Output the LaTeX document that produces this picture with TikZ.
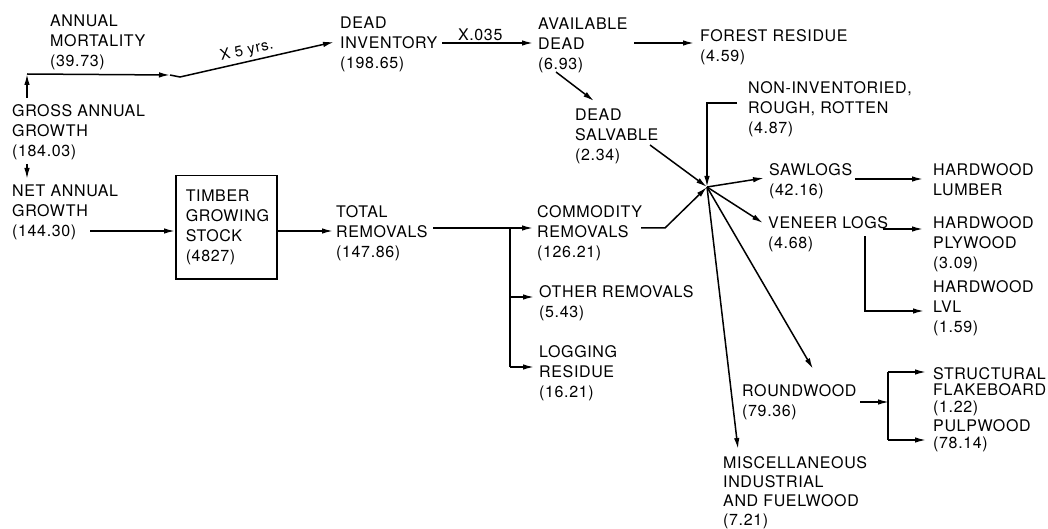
\documentclass[tikz,border=0pt]{standalone}
\usepackage{fontspec}
\setmainfont{TeX Gyre Heros}[LetterSpace=4]
\usetikzlibrary{arrows.meta}
\begin{document}
\begin{tikzpicture}[x=1pt,y=-1pt,
  lbl/.style={anchor=north west, inner sep=0pt, align=left, font=\fontsize{16}{20}\selectfont},
  arr/.style={-{Latex[length=11pt,width=5.5pt]}, line width=1.5pt},
  ln/.style={line width=1.5pt},
  boxed/.style={draw, line width=1.5pt, anchor=north west, inner xsep=10pt, inner ysep=0pt,
    minimum width=101pt, minimum height=103pt, text width=81pt, align=left, font=\fontsize{16}{20}\selectfont}]
\useasboundingbox[fill=white] (0,0) rectangle (1048,529);
% nodes
\node[lbl] (mort) at (50,15) {ANNUAL\\MORTALITY\\(39.73)};
\node[lbl] (gross) at (12,104) {GROSS ANNUAL\\GROWTH\\(184.03)};
\node[lbl] (net) at (12,185) {NET ANNUAL\\GROWTH\\(144.30)};
\node[boxed] (timber) at (175,175) {TIMBER\\GROWING\\STOCK\\(4827)};
\node[lbl] (total) at (336,205) {TOTAL\\REMOVALS\\(147.86)};
\node[lbl] (deadinv) at (340,17) {DEAD\\INVENTORY\\(198.65)};
\node[lbl] (avail) at (538,18) {AVAILABLE\\DEAD\\(6.93)};
\node[lbl] (forest) at (700,29) {FOREST RESIDUE\\(4.59)};
\node[lbl] (salv) at (575,109) {DEAD\\SALVABLE\\(2.34)};
\node[lbl] (noninv) at (748,81) {NON-INVENTORIED,\\ROUGH, ROTTEN\\(4.87)};
\node[lbl] (sawlogs) at (769,163) {SAWLOGS\\(42.16)};
\node[lbl] (lumber) at (933,163) {HARDWOOD\\LUMBER};
\node[lbl] (veneer) at (768,216) {VENEER LOGS\\(4.68)};
\node[lbl] (plywood) at (933,216) {HARDWOOD\\PLYWOOD\\(3.09)};
\node[lbl] (lvl) at (933,280) {HARDWOOD\\LVL\\(1.59)};
\node[lbl] (commodity) at (537,205) {COMMODITY\\REMOVALS\\(126.21)};
\node[lbl] (other) at (539,285) {OTHER REMOVALS\\(5.43)};
\node[lbl] (logging) at (539,345) {LOGGING\\RESIDUE\\(16.21)};
\node[lbl] (roundwood) at (742,384) {ROUNDWOOD\\(79.36)};
\node[lbl, font=\fontsize{16}{19}\selectfont] (misc) at (723,456) {MISCELLANEOUS\\INDUSTRIAL\\AND FUELWOOD\\(7.21)};
\node[lbl, font=\fontsize{16}{16.5}\selectfont] (struct) at (933,367) {STRUCTURAL\\FLAKEBOARD\\(1.22)};
\node[lbl, font=\fontsize{16}{17}\selectfont] (pulp) at (933,419) {PULPWOOD\\(78.14)};
% coordinates
\coordinate (hub) at (707,187);
\coordinate (g0) at (27,98);
\coordinate (g1) at (27,74);
\coordinate (g2) at (170,75);
\coordinate (g3) at (180,77);
\coordinate (d0) at (334,42);
\coordinate (n0) at (27,164);
\coordinate (n1) at (27,179);
\coordinate (t0) at (90,231);
\coordinate (t1) at (333,231);
\coordinate (r0) at (433,228);
\coordinate (r1) at (533,228);
\coordinate (rb) at (510,228);
\coordinate (rb2) at (510,297);
\coordinate (rb3) at (510,367);
\coordinate (o1) at (534,297);
\coordinate (l1) at (534,367);
\coordinate (i0) at (442,43);
\coordinate (i1) at (533,43);
\coordinate (a0) at (634,43);
\coordinate (a1) at (694,43);
\coordinate (a2) at (556,72);
\coordinate (a3) at (594,101);
\coordinate (s0) at (650,145);
\coordinate (ni0) at (737,103);
\coordinate (ni1) at (707,103);
\coordinate (c0) at (641,228);
\coordinate (c1) at (665,228);
\coordinate (sw1) at (764,178);
\coordinate (vn1) at (763,223);
\coordinate (rw1) at (813,369);
\coordinate (ms1) at (738,449);
\coordinate (sl0) at (855,179);
\coordinate (sl1) at (923,179);
\coordinate (v0) at (883,229);
\coordinate (v1) at (923,229);
\coordinate (v2) at (865,236);
\coordinate (v3) at (865,311);
\coordinate (v4) at (924,311);
\coordinate (w0) at (860,402);
\coordinate (w1) at (889,402);
\coordinate (w2) at (888,372);
\coordinate (w3) at (888,440);
\coordinate (w4) at (926,372);
\coordinate (w5) at (926,440);
% connectors
\draw[arr] (g0) -- (g1);
\draw[arr] (g1) -- (g2);
\draw[arr] (g2) -- (g3) -- node[sloped, above=3pt, pos=0.45, inner sep=0pt, font=\fontsize{15}{18}\selectfont] {X 5 yrs.} (d0);
\draw[arr] (n0) -- (n1);
\draw[arr] (t0) -- (timber.west |- t0);
\draw[arr] (timber.east |- t1) -- (t1);
\draw[arr] (r0) -- (r1);
\draw[ln] (rb) -- (rb3);
\draw[arr] (rb2) -- (o1);
\draw[arr] (rb3) -- (l1);
\draw[arr] (i0) -- node[above=2pt, pos=0.42, inner sep=0pt, font=\fontsize{16}{20}\selectfont] {X.035} (i1);
\draw[arr] (a0) -- (a1);
\draw[arr] (a2) -- (a3);
\draw[arr] (s0) -- (hub);
\draw[arr] (ni0) -- (ni1) -- (hub);
\draw[arr] (c0) -- (c1) -- (hub);
\draw[arr] (hub) -- (sw1);
\draw[arr] (hub) -- (vn1);
\draw[arr] (hub) -- (rw1);
\draw[arr] (hub) -- (ms1);
\draw[arr] (sl0) -- (sl1);
\draw[arr] (v0) -- (v1);
\draw[arr] (v2) -- (v3) -- (v4);
\draw[arr] (w0) -- (w1);
\draw[ln] (w2) -- (w3);
\draw[arr] (w2) -- (w4);
\draw[arr] (w3) -- (w5);
\end{tikzpicture}
\end{document}
